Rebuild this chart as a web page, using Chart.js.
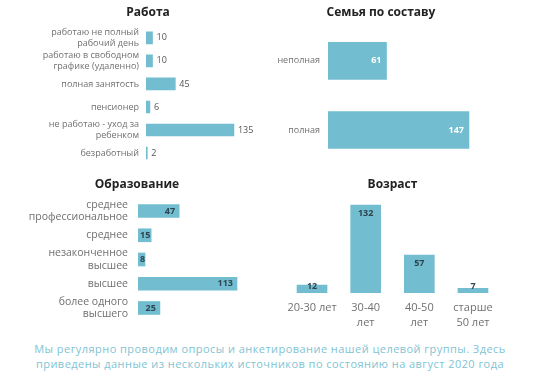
<!DOCTYPE html>
<html>
<head>
<meta charset="utf-8">
<script src="https://cdn.jsdelivr.net/npm/chart.js@4"></script>
<style>
  body { margin: 0; background: #fff; }
  #wrap { position: relative; width: 540px; height: 373px; overflow: hidden; }
  canvas { position: absolute; }
  #note {
    position: absolute; left: 0; top: 341px; width: 540px;
    text-align: center; font: 11px/15px "Open Sans", sans-serif; color: #7fc4d3;
    letter-spacing: 0.45px;
  }
</style>
</head>
<body>
<div id="wrap">
  <canvas id="workChart" width="270" height="170" style="left:0;top:0"></canvas>
  <canvas id="familyChart" width="270" height="170" style="left:270px;top:0"></canvas>
  <canvas id="eduChart" width="270" height="160" style="left:0;top:170px"></canvas>
  <canvas id="ageChart" width="270" height="160" style="left:270px;top:170px"></canvas>
  <div id="note">Мы регулярно проводим опросы и анкетирование нашей целевой группы. Здесь<br>приведены данные из нескольких источников по состоянию на август 2020 года</div>
</div>
<script>
const workLabels = [['работаю не полный', 'рабочий день'], ['работаю в свободном', 'графике (удаленно)'], 'полная занятость', 'пенсионер', ['не работаю - уход за', 'ребенком'], 'безработный'];
const workValues = [10, 10, 45, 6, 135, 2];

const familyLabels = ['неполная', 'полная'];
const familyValues = [61, 147];

const eduLabels = [['среднее', 'профессиональное'], 'среднее', ['незаконченное', 'высшее'], 'высшее', ['более одного', 'высшего']];
const eduValues = [47, 15, 8, 113, 25];

const ageLabels = ['20-30 лет', ['30-40', 'лет'], ['40-50', 'лет'], ['старше', '50 лет']];
const ageValues = [12, 132, 57, 7];

const BAR = '#72bdd0';
const FONT = '"Open Sans", sans-serif';

// подписи значений на столбиках
const valueLabels = {
    id: 'valueLabels',
    afterDatasetsDraw(chart, args, opts) {
        const ctx = chart.ctx;
        const meta = chart.getDatasetMeta(0);
        const values = chart.data.datasets[0].data;
        ctx.save();
        ctx.font = opts.font;
        ctx.fillStyle = opts.color;
        ctx.textBaseline = 'middle';
        meta.data.forEach((bar, i) => {
            const txt = String(values[i]);
            const w = ctx.measureText(txt).width;
            if (opts.mode === 'outside') {
                ctx.textAlign = 'left';
                ctx.fillText(txt, bar.x + 4, bar.y);
            } else if (opts.mode === 'insideEnd') {
                ctx.textAlign = 'right';
                const x = Math.max(bar.x - opts.offset, bar.base + w + 2);
                ctx.fillText(txt, x, bar.y);
            } else {
                ctx.textAlign = 'center';
                const y = Math.min(bar.y + 8, bar.base - 7);
                ctx.fillText(txt, bar.x, y);
            }
        });
        ctx.restore();
    }
};

function titleOpts(text, top, bottom) {
    return {
        display: true,
        text: text,
        color: '#222',
        font: { family: FONT, size: 12, weight: 'bold' },
        padding: { top: top, bottom: bottom }
    };
}

function hbar(id, labels, values, cfg) {
    return new Chart(document.getElementById(id), {
        type: 'bar',
        data: {
            labels: labels,
            datasets: [{ data: values, backgroundColor: BAR, barThickness: cfg.thickness }]
        },
        options: {
            indexAxis: 'y',
            responsive: false,
            animation: false,
            layout: { padding: cfg.padding },
            plugins: {
                legend: { display: false },
                tooltip: { enabled: false },
                title: titleOpts(cfg.title, cfg.titleTop, cfg.titleBottom),
                valueLabels: cfg.labels
            },
            scales: {
                x: { display: false, min: 0, max: cfg.max },
                y: {
                    grid: { display: false, drawTicks: false },
                    border: { display: false },
                    ticks: {
                        autoSkip: false,
                        color: '#707070',
                        padding: cfg.tickPad,
                        font: { family: FONT, size: cfg.tickSize, lineHeight: cfg.lineHeight }
                    },
                    afterFit: s => {
                        s.width = cfg.axisWidth;
                        s.paddingTop = 0;
                        s.paddingBottom = 0;
                    }
                }
            }
        },
        plugins: [valueLabels]
    });
}

hbar('workChart', workLabels, workValues, {
    title: 'Работа', titleTop: 5, titleBottom: 7,
    padding: { left: 36, right: 10, top: 0, bottom: 5.5 },
    axisWidth: 110, tickPad: 7, tickSize: 9, lineHeight: 1.15,
    max: 175, thickness: 12,
    labels: { mode: 'outside', color: '#555', font: '9px ' + FONT }
});

hbar('familyChart', familyLabels, familyValues, {
    title: 'Семья по составу', titleTop: 5, titleBottom: 7,
    padding: { left: 0, right: 48, top: 0, bottom: 5.5 },
    axisWidth: 58, tickPad: 8, tickSize: 9, lineHeight: 1.2,
    max: 171, thickness: 37,
    labels: { mode: 'insideEnd', offset: 5, color: '#fff', font: 'bold 9px ' + FONT }
});

hbar('eduChart', eduLabels, eduValues, {
    title: 'Образование', titleTop: 7.8, titleBottom: 6.7,
    padding: { left: 14, right: 10, top: 0, bottom: 9.9 },
    axisWidth: 124, tickPad: 10, tickSize: 10.5, lineHeight: 1.15,
    max: 139.3, thickness: 13,
    labels: { mode: 'insideEnd', offset: 4, color: '#2d4550', font: 'bold 9px ' + FONT }
});

new Chart(document.getElementById('ageChart'), {
    type: 'bar',
    data: {
        labels: ageLabels,
        datasets: [{ data: ageValues, backgroundColor: BAR, barThickness: 30 }]
    },
    options: {
        responsive: false,
        animation: false,
        layout: { padding: { left: 15.2, right: 40.2, top: 0, bottom: 0 } },
        plugins: {
            legend: { display: false },
            tooltip: { enabled: false },
            title: titleOpts('Возраст', 7.8, 7.8),
            valueLabels: { mode: 'insideTop', color: '#2d4550', font: 'bold 9px ' + FONT }
        },
        scales: {
            y: { display: false, min: 0, max: 139.5 },
            x: {
                grid: { display: false, drawTicks: false },
                border: { display: false },
                ticks: {
                    autoSkip: false,
                    color: '#707070',
                    padding: 7.5,
                    maxRotation: 0,
                    font: { family: FONT, size: 11, lineHeight: 1.36 }
                },
                afterFit: s => {
                    s.height = 37;
                    s.paddingLeft = 0;
                    s.paddingRight = 0;
                }
            }
        }
    },
    plugins: [valueLabels]
});
</script>
</body>
</html>
